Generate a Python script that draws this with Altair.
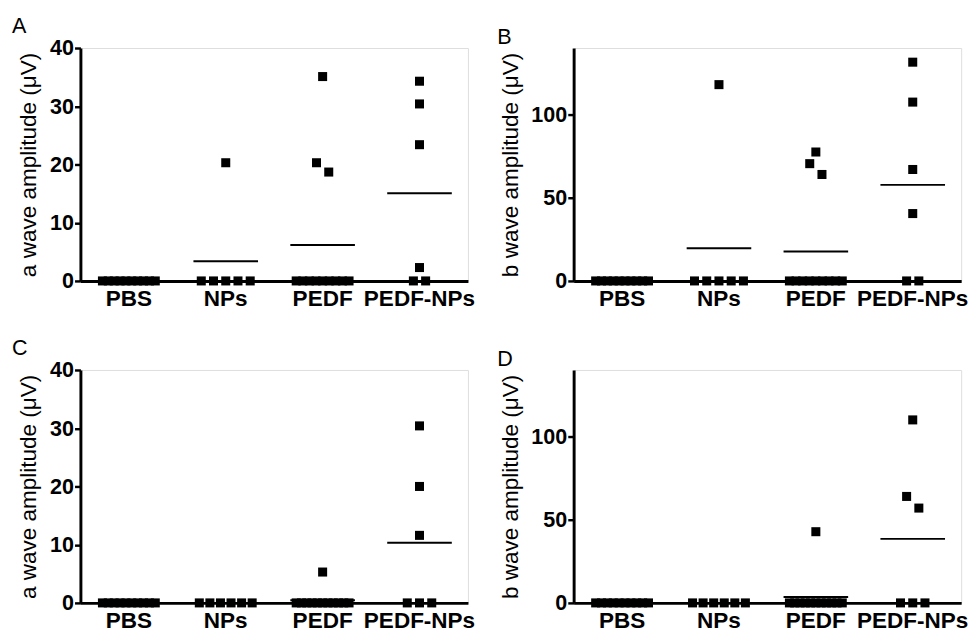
import altair as alt
import pandas as pd

GROUPS = ["PBS", "NPs", "PEDF", "PEDF-NPs"]

# Panel A: a wave amplitude (first condition)
A_PBS = [0, 0, 0, 0, 0, 0, 0, 0, 0, 0]
A_NPS = [20.3, 0, 0, 0, 0, 0]
A_PEDF = [35.1, 20.3, 18.7, 0, 0, 0, 0, 0, 0, 0, 0, 0]
A_PEDF_NPS = [34.3, 30.4, 23.4, 2.3, 0, 0]

# Panel B: b wave amplitude (first condition)
B_PBS = [0, 0, 0, 0, 0, 0, 0, 0, 0, 0]
B_NPS = [118, 0, 0, 0, 0, 0]
B_PEDF = [77.5, 70.5, 64, 0, 0, 0, 0, 0, 0, 0, 0, 0]
B_PEDF_NPS = [131.5, 107.5, 67, 40.5, 0, 0]

# Panel C: a wave amplitude (second condition)
C_PBS = [0, 0, 0, 0, 0, 0, 0, 0, 0, 0]
C_NPS = [0, 0, 0, 0, 0, 0]
C_PEDF = [5.3, 0, 0, 0, 0, 0, 0, 0, 0, 0, 0, 0]
C_PEDF_NPS = [30.4, 20.0, 11.6, 0, 0, 0]

# Panel D: b wave amplitude (second condition)
D_PBS = [0, 0, 0, 0, 0, 0, 0, 0, 0, 0]
D_NPS = [0, 0, 0, 0, 0, 0]
D_PEDF = [42.8, 0, 0, 0, 0, 0, 0, 0, 0, 0, 0, 0]
D_PEDF_NPS = [110, 64, 57, 0, 0, 0]

A_TICKS = [0, 10, 20, 30, 40]
B_TICKS = [0, 50, 100]
A_TITLE = "a wave amplitude (μV)"
B_TITLE = "b wave amplitude (μV)"

W = 396
H = 238
STEP = W / len(GROUPS)
FONT = "Liberation Sans"


def swarm_offsets(vals, px_per_unit, thresh=12.5, step=12.5, maxw=54):
    """GraphPad-like horizontal spreading of points that share a row."""
    order = sorted(range(len(vals)), key=lambda i: vals[i])
    rows = []
    for i in order:
        if rows and (vals[i] - vals[rows[-1][0]]) * px_per_unit < thresh:
            rows[-1].append(i)
        else:
            rows.append([i])
    off = [0.0] * len(vals)
    for r in rows:
        r = sorted(r, key=lambda i: -vals[i])
        k = len(r)
        sp = min(step, maxw / (k - 1)) if k > 1 else 0
        for j, i in enumerate(r):
            off[i] = (j - (k - 1) / 2) * sp
    return off


def panel(letter, series, ymax, ticks, ytitle, letter_dx):
    rows = []
    pxu = H / ymax
    for g, vals in zip(GROUPS, series):
        offs = swarm_offsets(vals, pxu)
        for v, o in zip(vals, offs):
            rows.append({"group": g, "value": v, "off": o})
    df = pd.DataFrame(rows)
    base = alt.Chart(df)
    x = alt.X(
        "group:N",
        sort=GROUPS,
        scale=alt.Scale(domain=GROUPS, paddingInner=0, paddingOuter=0),
        axis=alt.Axis(
            title=None, labelAngle=0, ticks=False, domainWidth=3,
            domainColor="black", labelFont=FONT, labelFontSize=23,
            labelFontWeight="bold", labelColor="black", labelPadding=7,
        ),
    )
    y = alt.Y(
        "value:Q",
        scale=alt.Scale(domain=[0, ymax], nice=False, zero=True),
        axis=alt.Axis(
            values=ticks, title=ytitle, grid=False, domainWidth=3,
            domainColor="black", tickColor="black", tickWidth=2.5,
            tickSize=6, labelFont=FONT, labelFontSize=22,
            labelFontWeight="bold", labelColor="black", labelPadding=1,
            titleFont=FONT, titleFontSize=23, titleFontWeight="normal",
            titleColor="black", titlePadding=9,
        ),
    )
    pts = base.mark_square(size=85, color="black", opacity=1).encode(
        x=x,
        xOffset=alt.XOffset("off:Q", scale=alt.Scale(domain=[-STEP / 2, STEP / 2])),
        y=y,
    )
    mean = base.mark_tick(color="black", size=66, thickness=2, opacity=1).encode(
        x=x,
        y=alt.Y("mean(value):Q"),
    )
    return alt.layer(mean, pts).properties(
        width=W,
        height=H,
        title=alt.TitleParams(
            letter, anchor="start", frame="group", dx=letter_dx, offset=-1,
            font=FONT, fontSize=22, fontWeight="normal", color="black",
        ),
    )


pA = panel("A", [A_PBS, A_NPS, A_PEDF, A_PEDF_NPS], 40, A_TICKS, A_TITLE, -70)
pB = panel("B", [B_PBS, B_NPS, B_PEDF, B_PEDF_NPS], 140, B_TICKS, B_TITLE, -78)
pC = panel("C", [C_PBS, C_NPS, C_PEDF, C_PEDF_NPS], 40, A_TICKS, A_TITLE, -70)
pD = panel("D", [D_PBS, D_NPS, D_PEDF, D_PEDF_NPS], 140, B_TICKS, B_TITLE, -78)

top = alt.hconcat(pA, pB, spacing=21)
bottom = alt.hconcat(pC, pD, spacing=21)
chart = (
    alt.vconcat(top, bottom, spacing=26)
    .properties(padding={"left": 3, "top": 0, "right": 0, "bottom": 0})
    .configure_view(stroke=None)
    .configure(background="white")
)

chart.save("out.html", embed_options={"renderer": "svg", "actions": False})
